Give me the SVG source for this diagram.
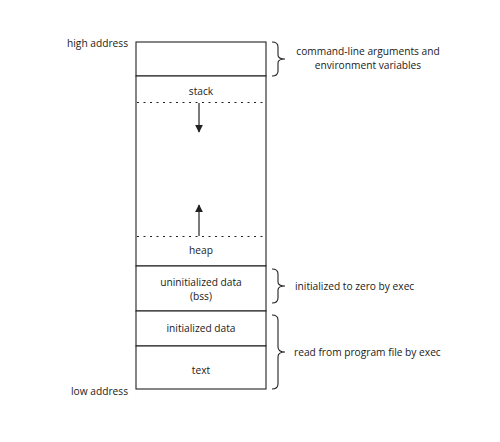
<svg xmlns="http://www.w3.org/2000/svg" width="500" height="442" viewBox="0 0 500 442">
<style>
text{font-family:"Open Sans","Noto Sans",sans-serif;font-size:10.2px;fill:#1a1a1a}
.c{text-anchor:middle}
.box{fill:#fff;stroke:#222;stroke-width:1.1}
.dot{stroke:#222;stroke-width:1.1;stroke-dasharray:2 4.5;fill:none}
.br{fill:none;stroke:#222;stroke-width:1.1}
.ar{stroke:#222;stroke-width:1.2;fill:none}
</style>
<defs>
<marker id="ah" viewBox="0 0 10 10" refX="9" refY="5" markerWidth="8" markerHeight="8" markerUnits="userSpaceOnUse" orient="auto"><path d="M0,0 L10,5 L0,10 z" fill="#222"/></marker>
</defs>
<rect width="500" height="442" fill="#fff"/>
<text x="128" y="47" text-anchor="end">high address</text>
<text x="128" y="395" text-anchor="end">low address</text>
<g id="args"><rect class="box" x="136" y="42" width="130" height="34"/></g>
<g id="stackheap"><rect class="box" x="136" y="76" width="130" height="190"/>
<text class="c" x="201" y="95">stack</text>
<text class="c" x="201" y="254">heap</text></g>
<g id="bss"><rect class="box" x="136" y="266" width="130" height="45"/>
<text class="c" x="201" y="286">uninitialized data</text>
<text class="c" x="201" y="300">(bss)</text></g>
<g id="init"><rect class="box" x="136" y="311" width="130" height="35"/>
<text class="c" x="201" y="332">initialized data</text></g>
<g id="textseg"><rect class="box" x="136" y="346" width="130" height="43"/>
<text class="c" x="201" y="374">text</text></g>
<g id="connectors">
<line class="dot" x1="137" y1="102.5" x2="266" y2="102.5"/>
<line class="dot" x1="137" y1="236.5" x2="266" y2="236.5"/>
<line class="ar" x1="199" y1="103" x2="199" y2="132" marker-end="url(#ah)"/>
<line class="ar" x1="199" y1="236" x2="199" y2="205" marker-end="url(#ah)"/>
<path class="br" d="M272,42 Q278,42 278,47 L278,55 Q278,59 285,59 Q278,59 278,63 L278,71 Q278,76 272,76"/>
<path class="br" d="M272,269 Q278,269 278,274 L278,282 Q278,286 285,286 Q278,286 278,290 L278,298 Q278,303 272,303"/>
<path class="br" d="M272,315 Q278,315 278,320 L278,347 Q278,352 285,352 Q278,352 278,357 L278,384 Q278,389 272,389"/>
</g>
<text class="c" x="368" y="55">command-line arguments and</text>
<text class="c" x="368" y="69">environment variables</text>
<text x="295" y="290">initialized to zero by exec</text>
<text x="294" y="356">read from program file by exec</text>
</svg>
